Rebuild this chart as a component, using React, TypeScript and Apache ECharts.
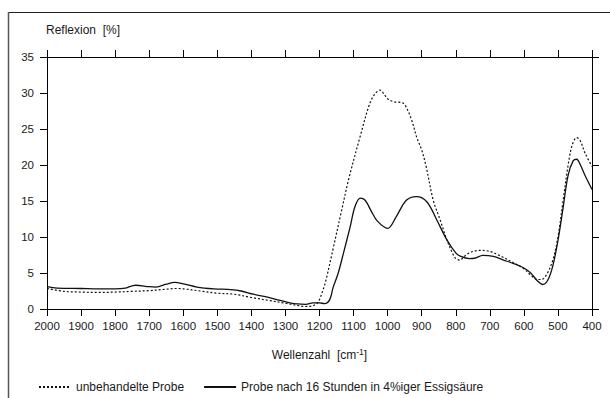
import React, { useEffect, useRef } from "react";
import * as echarts from "echarts";

// Wavenumbers (cm^-1) and reflexion (%) – untreated sample (dotted)
const untreatedWn = [2000, 1950, 1900, 1850, 1800, 1750, 1700, 1650, 1620, 1600, 1550, 1500, 1450, 1400, 1350, 1300, 1260, 1240, 1220, 1205, 1190, 1181, 1159, 1135, 1115, 1081, 1052, 1035, 1022, 1010, 1000, 983, 955, 944, 929, 915, 900, 887, 866, 846, 826, 810, 800, 788, 775, 760, 730, 700, 670, 630, 600, 580, 560, 548, 533, 515, 500, 485, 470, 458, 445, 435, 420, 400];
const untreatedR = [2.85, 2.45, 2.35, 2.3, 2.35, 2.45, 2.55, 2.75, 2.85, 2.8, 2.5, 2.2, 2.05, 1.6, 1.2, 0.8, 0.45, 0.35, 0.45, 0.9, 2.6, 4.0, 8.6, 13.7, 17.9, 23.9, 28.6, 30.0, 30.4, 29.8, 29.2, 28.8, 28.6, 27.9, 26.2, 23.9, 22.1, 19.8, 15.1, 12.4, 9.6, 7.8, 7.0, 6.8, 7.3, 7.8, 8.15, 8.0, 7.4, 6.4, 5.6, 4.7, 4.1, 4.1, 4.8, 6.8, 10.0, 15.0, 20.0, 22.8, 23.8, 23.4, 21.6, 19.8];

// Treated sample: 16 hours in 4% acetic acid (solid)
const treatedWn = [2000, 1970, 1900, 1850, 1800, 1770, 1740, 1700, 1680, 1650, 1625, 1600, 1560, 1510, 1460, 1430, 1394, 1350, 1326, 1290, 1265, 1240, 1220, 1200, 1185, 1170, 1160, 1145, 1130, 1110, 1096, 1080, 1066, 1047, 1030, 1000, 975, 945, 915, 885, 856, 826, 800, 785, 760, 745, 720, 690, 660, 630, 600, 580, 560, 545, 530, 515, 500, 485, 470, 455, 445, 435, 420, 400];
const treatedR = [3.1, 2.9, 2.85, 2.8, 2.8, 2.9, 3.3, 3.1, 3.05, 3.45, 3.7, 3.5, 3.05, 2.8, 2.7, 2.5, 2.05, 1.6, 1.3, 0.9, 0.7, 0.65, 0.85, 0.85, 0.75, 1.3, 3.0, 5.0, 7.7, 11.4, 14.2, 15.4, 15.1, 13.5, 12.2, 11.2, 12.8, 15.1, 15.6, 14.9, 12.4, 9.6, 7.8, 7.3, 7.0, 7.05, 7.45, 7.3, 6.8, 6.3, 5.7, 5.0, 3.9, 3.4, 4.0, 6.0, 9.5, 14.0, 18.6, 20.6, 20.8, 20.1, 18.5, 16.6];

const seriesNames = ["unbehandelte Probe", "Probe nach 16 Stunden in 4%iger Essigsäure"];
const xTicks = { min: 400, max: 2000, interval: 100 };
const yTicks = { min: 0, max: 35, interval: 5 };
const yTitle = "Reflexion  [%]";

const FONT = "'Liberation Sans', Arial, Helvetica, sans-serif";
const TXT = "#1a1a1a";

export default function App() {
  const ref = useRef<HTMLDivElement>(null);
  useEffect(() => {
    if (!ref.current) return;
    const chart = echarts.init(ref.current, undefined, { renderer: "svg" });
    const zip = (xs: number[], ys: number[]) => xs.map((x, i) => [x, ys[i]]);
    const axisLine = { show: true, onZero: false, lineStyle: { color: "#000", width: 1 } };
    const axisTick = { show: true, inside: false, length: 7, lineStyle: { color: "#000", width: 1 } };
    const xBase = { type: "value", ...xTicks, inverse: true, splitLine: { show: false }, axisLine, axisTick };
    const yBase = { type: "value", ...yTicks, splitLine: { show: false }, axisLine, axisTick };
    chart.setOption({
      animation: false,
      backgroundColor: "#fff",
      textStyle: { fontFamily: FONT },
      grid: { left: 47, right: 18, top: 57, bottom: 89 },
      xAxis: [
        {
          ...xBase,
          position: "bottom",
          axisLabel: {
            show: true,
            color: TXT,
            fontSize: 11.5,
            fontFamily: FONT,
            margin: 11,
            formatter: (v: number) => String(v),
          },
          name: "Wellenzahl  [cm{sup|-1}]",
          nameLocation: "middle",
          nameGap: 38,
          nameTextStyle: {
            color: TXT,
            fontSize: 12,
            fontFamily: FONT,
            rich: { sup: { fontSize: 8.5, fontFamily: FONT, color: TXT, padding: [0, 0, 6, 0] } },
          },
        },
        { ...xBase, position: "top", axisLabel: { show: false } },
      ],
      yAxis: [
        {
          ...yBase,
          position: "left",
          axisLabel: { show: true, color: TXT, fontSize: 11.5, fontFamily: FONT, margin: 13 },
        },
        { ...yBase, position: "right", axisLabel: { show: false } },
      ],
      legend: {
        left: 38,
        top: 381,
        padding: 0,
        itemWidth: 32,
        itemHeight: 10,
        itemGap: 19,
        itemStyle: { opacity: 0 },
        textStyle: { color: TXT, fontSize: 12, fontFamily: FONT },
        data: seriesNames,
      },
      graphic: [
        { type: "line", shape: { x1: 8, y1: 12.5, x2: 610, y2: 12.5 }, style: { stroke: "#222", lineWidth: 1 } },
        { type: "line", shape: { x1: 8.5, y1: 12, x2: 8.5, y2: 398 }, style: { stroke: "#555", lineWidth: 1.5 } },
        { type: "text", left: 46, top: 24, style: { text: yTitle, fill: TXT, font: `12px ${FONT}` } },
      ],
      series: [
        {
          name: seriesNames[0],
          type: "line",
          data: zip(untreatedWn, untreatedR),
          symbol: "none",
          smooth: 0.35,
          lineStyle: { color: "#111", width: 1.2, type: [2, 2] },
          itemStyle: { color: "#111" },
        },
        {
          name: seriesNames[1],
          type: "line",
          data: zip(treatedWn, treatedR),
          symbol: "none",
          smooth: 0.35,
          lineStyle: { color: "#111", width: 1.3, type: "solid" },
          itemStyle: { color: "#111" },
        },
      ],
    });
    return () => chart.dispose();
  }, []);
  return <div ref={ref} style={{ position: "fixed", left: 0, top: 0, width: 610, height: 398 }} />;
}
